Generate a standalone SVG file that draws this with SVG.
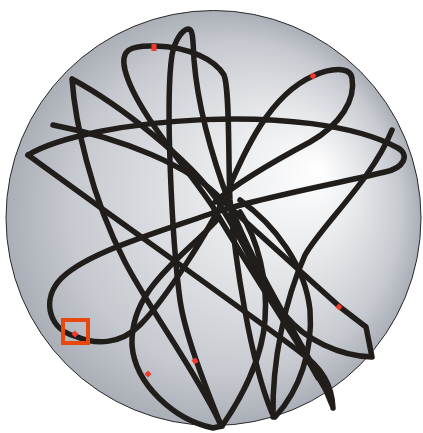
<svg xmlns="http://www.w3.org/2000/svg" width="423" height="433" viewBox="0 0 423 433">
<defs>
<radialGradient id="bg" gradientUnits="userSpaceOnUse" cx="213.5" cy="218" r="207.5" fx="322" fy="170">
<stop offset="0" stop-color="#ffffff"/>
<stop offset="0.4" stop-color="#e4e6e9"/>
<stop offset="0.8" stop-color="#c6c9cf"/>
<stop offset="1" stop-color="#aaaeb6"/>
</radialGradient>
<style>
.s{fill:none;stroke:#211d1a;stroke-width:5.5;stroke-linecap:round;stroke-linejoin:round}
.d{fill:#ee3a2c}
</style>
</defs>
<rect width="423" height="433" fill="#ffffff"/>
<circle id="disc" cx="213.5" cy="218" r="207.5" fill="url(#bg)" stroke="#2a2a2a" stroke-width="1"/>
<g id="strokes">
<path class="s" d="M28,155 C90,118 310,100 398,148 C410,155 404,168 385,172 C330,185 250,200 210,214 C150,235 80,255 58,282 C42,302 50,330 75,336 C95,345 120,345 140,325 C165,300 210,230 228,190 C245,150 270,95 313,76 C330,68 350,66 352,78 C356,100 340,125 310,142 C280,158 240,180 215,202"/>
<path class="s" d="M327,392 C300,345 250,270 213,207 C185,165 135,110 125,70 C120,50 130,45 155,46 C190,47 215,60 224,75 C230,90 228,160 230,200 C235,260 250,360 272,413"/>
<path class="s" d="M220,423 C205,385 185,335 180,300 C172,240 165,100 172,55 C175,40 182,30 188,29 C193,28 193,40 194,60 C198,110 215,165 230,205 C255,270 300,340 325,388 L332,405"/>
<path class="s" d="M318,378 C280,310 245,245 217,200 C190,160 120,105 72,79 C75,120 90,195 125,262 C150,310 195,370 220,423"/>
<path class="s" d="M28,155 C110,215 230,300 300,352 C322,368 332,385 333,408"/>
<path class="s" d="M53,125 C120,138 190,165 222,200 C260,235 310,280 340,307 L366,327 L372,357 C340,356 305,340 285,315 C265,290 245,250 230,215"/>
<path class="s" d="M392,130 C372,180 322,225 305,255 C285,300 272,360 273,417"/>
<path class="s" d="M240,200 C275,225 305,265 310,310 C313,350 300,390 275,417"/>
<path class="s" d="M217,220 C180,260 130,290 132,345 C135,385 175,420 213,428 L222,426"/>
<path class="s" d="M222,426 C240,400 262,360 265,320 C268,280 258,240 240,212"/>
</g>
<g id="marks">
<rect class="d" x="151.5" y="44" width="5" height="7"/>
<rect class="d" x="310.5" y="73.5" width="5" height="5" transform="rotate(30 313 76)"/>
<rect class="d" x="336.5" y="304.5" width="5" height="5" transform="rotate(40 339 307)"/>
<rect class="d" x="192.5" y="358.5" width="5" height="5" transform="rotate(60 195 361)"/>
<rect class="d" x="145.5" y="371.5" width="5" height="5" transform="rotate(45 148 374)"/>
<rect class="d" x="72.5" y="331.5" width="5" height="5" transform="rotate(40 75 334)"/>
</g>
<rect id="focus" x="63" y="320" width="25" height="23" fill="none" stroke="#e8480c" stroke-width="4"/>
</svg>
